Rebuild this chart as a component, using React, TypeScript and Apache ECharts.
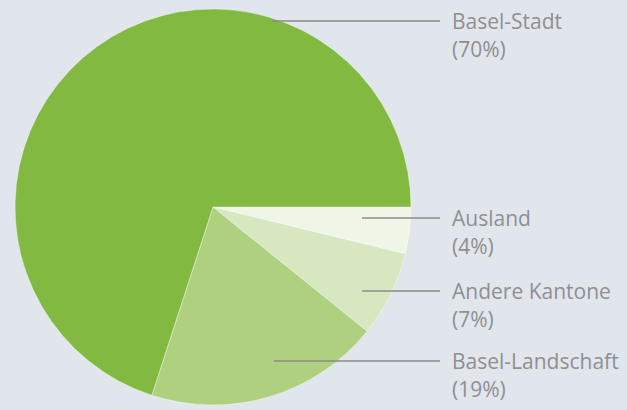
import React, { useEffect, useRef } from "react";
import * as echarts from "echarts";

const categories = ["Ausland", "Andere Kantone", "Basel-Landschaft", "Basel-Stadt"];
const values = [3.8, 7.0, 19.2, 70.0];
const percentLabels = ["4%", "7%", "19%", "70%"];
const colors = ["#f0f6e7", "#d7e7bf", "#aed07f", "#81b941"];

// label layout (y of the leader line, x where it starts inside the slice)
const lineY = [218, 291, 361, 21];
const lineStartX = [362, 362, 274, 272];

export default function App() {
  const ref = useRef<HTMLDivElement>(null);
  useEffect(() => {
    if (!ref.current) return;
    const chart = echarts.init(ref.current, null, { renderer: "svg" });
    const base = {
      type: "pie",
      center: [213, 207],
      radius: 198,
      startAngle: 0,
      clockwise: true,
      avoidLabelOverlap: false,
      emphasis: { disabled: true },
      silent: true,
    };
    chart.setOption({
      animation: false,
      backgroundColor: "#e1e5ec",
      series: [
        {
          ...base,
          z: 1,
          data: categories.map((name, i) => ({
            name,
            value: values[i],
            itemStyle: { color: colors[i] },
          })),
          itemStyle: { borderColor: "#ffffff", borderWidth: 0.4 },
          label: { show: false },
          labelLine: { show: false },
        },
        {
          ...base,
          z: 5,
          data: categories.map((name, i) => ({
            name,
            value: values[i],
          })),
          itemStyle: { color: "rgba(0,0,0,0)", borderWidth: 0 },
          label: {
            show: true,
            position: "outside",
            formatter: (p: any) => `${p.name}\n(${percentLabels[p.dataIndex]})`,
            color: "#8e9093",
            fontFamily: "Open Sans",
            fontSize: 21,
            lineHeight: 28,
            align: "left",
          },
          labelLine: {
            show: true,
            lineStyle: { color: "#8a8b8e", width: 1.5 },
          },
          labelLayout: (params: any) => {
            const i = params.dataIndex;
            return {
              x: 452,
              y: lineY[i] - 14,
              align: "left",
              verticalAlign: "top",
              labelLinePoints: [
                [lineStartX[i], lineY[i]],
                [440, lineY[i]],
                [440, lineY[i]],
              ],
            };
          },
        },
      ],
    });
    return () => chart.dispose();
  }, []);
  return (
    <div
      ref={ref}
      style={{ position: "fixed", left: 0, top: 0, width: 627, height: 410 }}
    />
  );
}
